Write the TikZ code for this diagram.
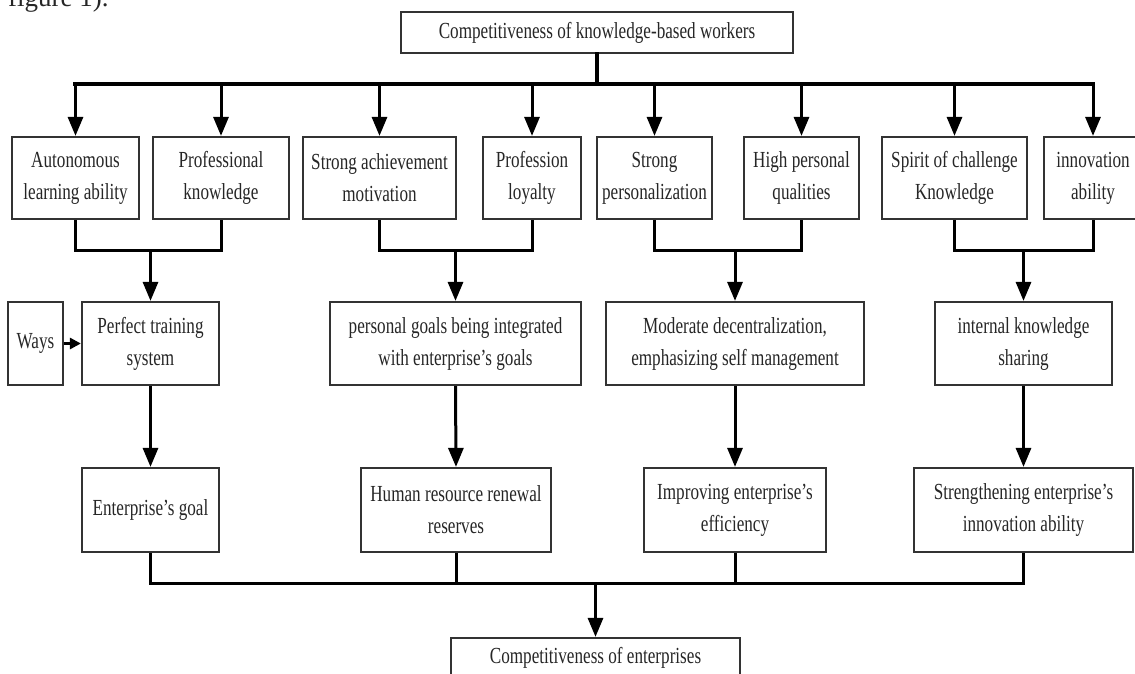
\documentclass[tikz,border=0pt]{standalone}
\usepackage{fontspec}
\setmainfont{Liberation Serif}[FakeStretch=0.745]
\newfontfamily\figfont{Liberation Serif}
\usetikzlibrary{arrows.meta}
\begin{document}
\begin{tikzpicture}[x=1pt,y=-1pt,
  box/.style={draw=black!80, line width=2.2pt, inner sep=0pt, align=center,
    text=black!85, font=\fontsize{23}{32}\selectfont},
  conn/.style={draw=black, line width=3pt, line join=miter},
  arr/.style={conn, -{Triangle[width=15pt,length=19pt]}},
  sarr/.style={conn, -{Triangle[width=11pt,length=11pt]}},
  busline/.style={draw=black, line width=4.5pt, line cap=rect}]
\useasboundingbox (0,0) rectangle (1135,673);
\node[anchor=base west, inner sep=0pt, text=black!85,
  font=\figfont\fontsize{27}{30}\selectfont] (fig) at (8,6) {figure 1).};
% top
\node[box, minimum width=392, minimum height=41] (top) at (597,32.5)
  {Competitiveness of knowledge-based workers};
% level 2
\node[box, minimum width=127, minimum height=82] (a1) at (75.5,178) {Autonomous\\learning ability};
\node[box, minimum width=136, minimum height=82] (a2) at (221,178) {Professional\\knowledge};
\node[box, minimum width=153, minimum height=82] (a3) at (379.5,178) {Strong achievement\\motivation};
\node[box, minimum width=98, minimum height=82] (a4) at (532,178) {Profession\\loyalty};
\node[box, minimum width=115, minimum height=82] (a5) at (654.5,178) {Strong\\personalization};
\node[box, minimum width=115, minimum height=82] (a6) at (801.5,178) {High personal\\qualities};
\node[box, minimum width=145, minimum height=82] (a7) at (954.5,178) {Spirit of challenge\\Knowledge};
\node[box, minimum width=98, minimum height=82] (a8) at (1093,178) {innovation\\ability};
% level 3
\node[box, minimum width=55, minimum height=83] (ways) at (35.5,343.5) {Ways};
\node[box, minimum width=137, minimum height=83] (b1) at (150.5,343.5) {Perfect training\\system};
\node[box, minimum width=251, minimum height=83] (b2) at (455.5,343.5) {personal goals being integrated\\with enterprise’s goals};
\node[box, minimum width=258, minimum height=83] (b3) at (735,343.5) {Moderate decentralization,\\emphasizing self management};
\node[box, minimum width=177, minimum height=83] (b4) at (1023.5,343.5) {internal knowledge\\sharing};
% level 4
\node[box, minimum width=137, minimum height=84] (c1) at (150.5,510) {Enterprise’s goal};
\node[box, minimum width=190, minimum height=84] (c2) at (456,510) {Human resource renewal\\reserves};
\node[box, minimum width=182, minimum height=84] (c3) at (735,510) {Improving enterprise’s\\efficiency};
\node[box, minimum width=219, minimum height=84] (c4) at (1023.5,510) {Strengthening enterprise’s\\innovation ability};
% bottom
\node[box, minimum width=289, minimum height=40] (bot) at (595.5,658) {Competitiveness of enterprises};
% top bus
\coordinate (bus) at (597,84);
\draw[busline] (top.south) -- (bus);
\draw[busline] (a1.north |- bus) -- (a8.north |- bus);
\foreach \n in {a1,a2,a3,a4,a5,a6,a7,a8}
  \draw[arr] (\n.north |- bus) -- (\n.north);
% group brackets
\coordinate (g1) at (150.5,250);
\coordinate (g2) at (455.5,250);
\coordinate (g3) at (735,250);
\coordinate (g4) at (1023.5,250);
\draw[conn] (a1.south) |- (g1) -| (a2.south);
\draw[conn] (a3.south) |- (g2) -| (a4.south);
\draw[conn] (a5.south) |- (g3) -| (a6.south);
\draw[conn] (a7.south) |- (g4) -| (a8.south);
\draw[arr] (g1) -- (b1.north);
\draw[arr] (g2) -- (b2.north);
\draw[arr] (g3) -- (b3.north);
\draw[arr] (g4) -- (b4.north);
% ways
\draw[sarr] (ways.east) -- (b1.west);
% level 3 to level 4
\draw[arr] (b1.south) -- (c1.north);
\draw[arr] (b2.south) -- (c2.north);
\draw[arr] (b3.south) -- (c3.north);
\draw[arr] (b4.south) -- (c4.north);
% bottom bus
\coordinate (bb) at (595.5,583);
\draw[conn] (c1.south) |- (bb) -| (c4.south);
\draw[conn] (c2.south) -- (c2.south |- bb);
\draw[conn] (c3.south) -- (c3.south |- bb);
\draw[arr] (bb) -- (bot.north);
\end{tikzpicture}
\end{document}
